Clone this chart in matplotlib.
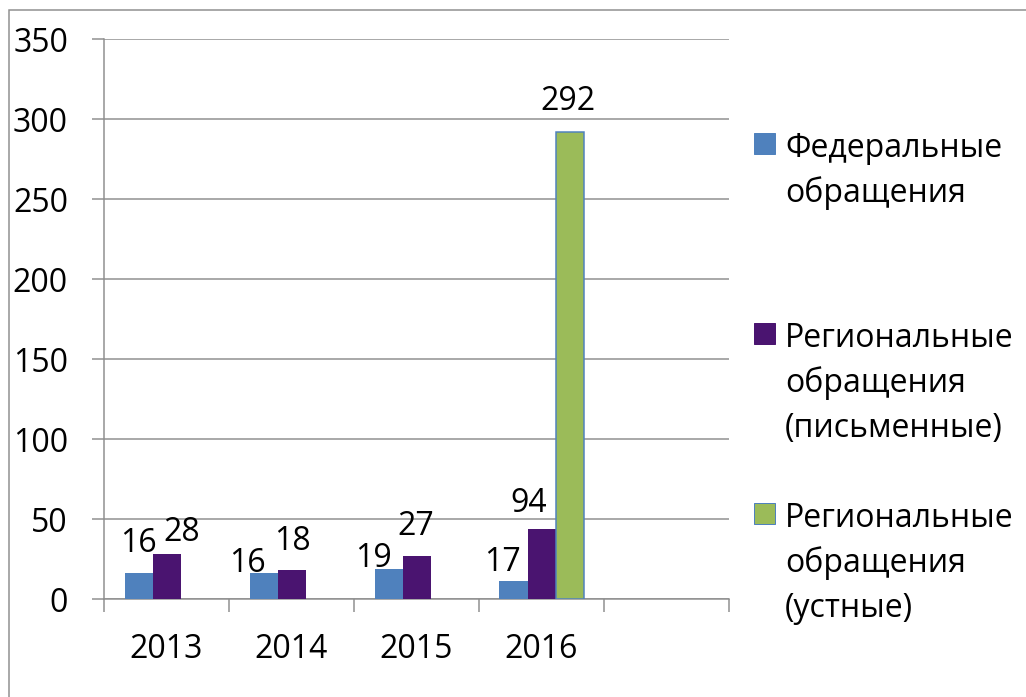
import numpy as np
import matplotlib
matplotlib.use("Agg")
import matplotlib.pyplot as plt
from matplotlib.patches import Rectangle

plt.rcParams['font.family'] = ['Open Sans', 'DejaVu Sans']

# data
years = ["2013", "2014", "2015", "2016"]
federal = [16, 16, 19, 11]
regional_written = [28, 18, 27, 44]
regional_oral = [None, None, None, 292]

federal_labels = ["16", "16", "19", "17"]
written_labels = ["28", "18", "27", "94"]
oral_labels = [None, None, None, "292"]

legend_labels = [
    ["Федеральные", "обращения"],
    ["Региональные", "обращения", "(письменные)"],
    ["Региональные", "обращения", "(устные)"],
]

BLUE = "#4F81BD"
PURPLE = "#4a1470"
GREEN = "#9BBB59"
GREY = "#8e8e8e"

W, H = 1026, 697
PX = 0.72  # pixels -> points at dpi 100

fig = plt.figure(figsize=(W / 100, H / 100), dpi=100)
ax = fig.add_axes([104 / W, 1 - 599 / H, (729 - 104) / W, (599 - 39) / H])

x = np.arange(len(years))
bw = 0.224
ax.bar(x - bw, federal, width=bw, color=BLUE, linewidth=0)
ax.bar(x, regional_written, width=bw, color=PURPLE, linewidth=0)
ox = [i for i, v in enumerate(regional_oral) if v is not None]
ax.bar(np.array(ox) + bw, [regional_oral[i] for i in ox], width=bw,
       color=GREEN, edgecolor=BLUE, linewidth=1.5 * PX)

# data labels, nudged like the original (pixels: dx, baseline above bar top)
fed_off = [(0, 21), (-16, 1), (-15.5, 2), (-11, 10)]
wr_off = [(15.5, 13), (1, 20), (-1, 21), (-12.5, 17)]
or_off = [None, None, None, (-2, 22)]
fs = 23
for i in range(len(years)):
    ax.annotate(federal_labels[i], (x[i] - bw, federal[i]), xytext=fed_off[i],
                textcoords='offset pixels', ha='center', va='baseline', fontsize=fs)
    ax.annotate(written_labels[i], (x[i], regional_written[i]), xytext=wr_off[i],
                textcoords='offset pixels', ha='center', va='baseline', fontsize=fs)
    if regional_oral[i] is not None:
        ax.annotate(oral_labels[i], (x[i] + bw, regional_oral[i]), xytext=or_off[i],
                    textcoords='offset pixels', ha='center', va='baseline', fontsize=fs)

ax.set_xlim(-0.5, 4.5)
ax.set_ylim(0, 350)
ax.set_yticks(range(0, 351, 50))
ax.set_xticks(x)
ax.set_xticklabels(years)
ax.set_xticks(np.arange(-0.5, 4.6, 1), minor=True)
ax.tick_params(axis='x', which='major', length=0, pad=34 * PX, labelsize=fs)
ax.tick_params(axis='x', which='minor', length=13 * PX, width=1.5 * PX, color=GREY)
ax.tick_params(axis='y', length=12 * PX, width=1.5 * PX, color=GREY, pad=24 * PX, labelsize=fs)

ax.yaxis.grid(True, color=GREY, linewidth=1.5 * PX)
ax.set_axisbelow(True)
for s in ['top', 'right']:
    ax.spines[s].set_visible(False)
for s in ['left', 'bottom']:
    ax.spines[s].set_color(GREY)
    ax.spines[s].set_linewidth(1.5 * PX)
ax.spines['bottom'].set_zorder(0.5)

# legend drawn by hand, Excel spaces the entries unevenly
colors = [BLUE, PURPLE, GREEN]
edges = [BLUE, PURPLE, BLUE]
first_baseline = [157, 347, 527]
pitch = 45
for lab, c, ec, yb in zip(legend_labels, colors, edges, first_baseline):
    fig.add_artist(Rectangle((754 / W, 1 - (yb - 3) / H), 21 / W, 21 / H,
                             facecolor=c, edgecolor=ec, linewidth=1.0 * PX,
                             transform=fig.transFigure))
    for j, line in enumerate(lab):
        fig.text(785 / W, 1 - (yb + j * pitch) / H, line, fontsize=fs,
                 ha='left', va='baseline')

# outer frame, right and bottom sides fall outside the picture
fig.add_artist(Rectangle((9 / W, -0.1), 1.2, 1 - 10 / H + 0.1, fill=False,
                         edgecolor=GREY, linewidth=1.5 * PX,
                         transform=fig.transFigure, clip_on=False))

fig.savefig("out.png", dpi=100)
